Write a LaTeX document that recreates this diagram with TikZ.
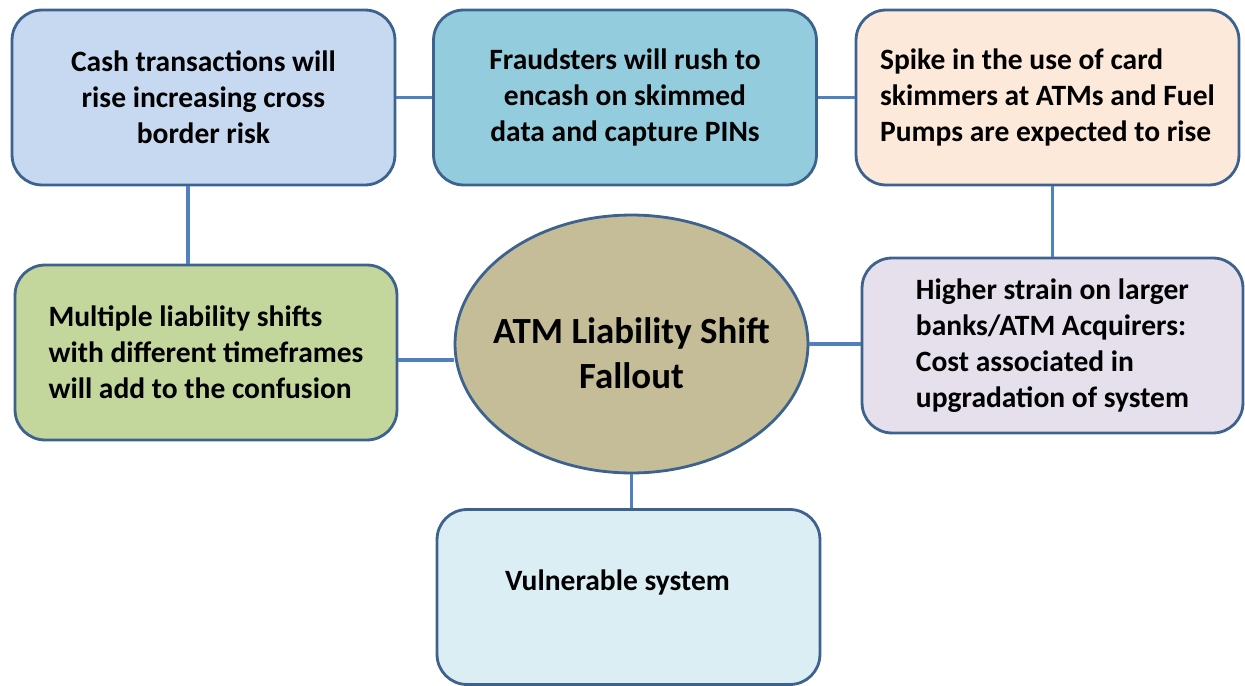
\documentclass[tikz,border=0pt]{standalone}
\usepackage{fontspec}
\setmainfont{Carlito}
\usepackage{tikz}
\usetikzlibrary{shapes.geometric}
\usepackage{xcolor}
\definecolor{edgeblue}{RGB}{62,98,142}
\definecolor{linkblue}{RGB}{79,129,189}
\definecolor{cashfill}{HTML}{C6D9F1}
\definecolor{fraudfill}{HTML}{93CDDD}
\definecolor{spikefill}{HTML}{FDE9D9}
\definecolor{multifill}{HTML}{C3D69B}
\definecolor{hubfill}{HTML}{C4BD97}
\definecolor{strainfill}{HTML}{E5E0EC}
\definecolor{vulnfill}{HTML}{DBEEF4}

\begin{document}
\begin{tikzpicture}[x = 0.02cm, y = -0.02cm,
        box/.style = {draw = edgeblue, line width = 1.6pt, rounded corners = 0.6cm,
            minimum width = 7.66cm, minimum height = 3.5cm,
            font = \fontsize{16.8}{20.6}\selectfont\bfseries},
        hub/.style = {draw = edgeblue, line width = 1.6pt, ellipse, fill = hubfill,
            minimum width = 7.06cm, minimum height = 5.16cm, inner xsep = -1.5cm, inner ysep = 0pt,
            font = \fontsize{21}{25.5}\selectfont\bfseries},
        link/.style = {draw = linkblue, line width = 1.8pt}]
        \useasboundingbox (0,0) rectangle (1245,686);
        % outer boxes
        \node[box, fill = cashfill, align = center] (cash) at (203.5,97.5)
            {Cash transactions will\\rise increasing cross\\border risk};
        \node[box, fill = fraudfill, align = center] (fraud) at (625,97.5)
            {Fraudsters will rush to\\encash on skimmed\\data and capture PINs};
        \node[box, fill = spikefill, align = left] (spike) at (1047.5,97.5)
            {Spike in the use of card\\skimmers at ATMs and Fuel\\Pumps are expected to rise};
        \node[box, fill = multifill, align = left, minimum width = 7.64cm] (multi) at (206,352.5)
            {Multiple liability shifts\\with different timeframes\\will add to the confusion};
        \node[box, fill = strainfill, align = left, minimum width = 7.62cm] (strain) at (1052.5,345.5)
            {Higher strain on larger\\banks/ATM Acquirers:\\Cost associated in\\upgradation of system};
        \node[box, fill = vulnfill, align = left,
            text height = 0.35cm, text depth = 0.63cm] (vuln) at (628.5,597)
            {Vulnerable system\hspace*{0.44cm}};
        % centre
        \node[hub, align = center] (atm) at (631.5,344)
            {\rule{0pt}{0.9cm}ATM Liability Shift\\Fallout};
        % connectors
        \draw[link] (cash.east) -- (fraud.west);
        \draw[link] (fraud.east) -- (spike.west);
        \draw[link] ([xshift = -0.31cm]cash.south) -- ([xshift = -0.31cm]cash.south |- multi.north);
        \draw[link] (spike.south -| strain.north) -- (strain.north);
        \draw[link] ([yshift = -0.15cm]multi.east) -- ([yshift = -0.15cm]multi.east -| atm.west);
        \draw[link] (atm.east) -- (atm.east -| strain.west);
        \draw[link] (atm.south) -- (atm.south |- vuln.north);
    \end{tikzpicture}
\end{document}
